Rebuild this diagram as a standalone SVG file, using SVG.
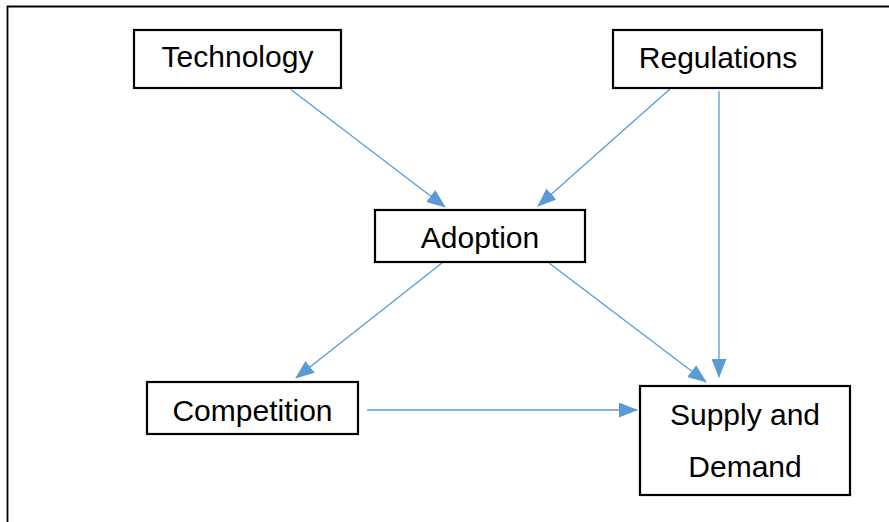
<svg xmlns="http://www.w3.org/2000/svg" width="889" height="522" viewBox="0 0 889 522">
<style>
.box{fill:#fff;stroke:#000;stroke-width:2.2}
.lbl{font-family:"Liberation Sans",Arial,sans-serif;font-size:30px;fill:#000;text-anchor:middle}
.conn line{stroke:#5B9BD5;stroke-width:1.3;marker-end:url(#ah)}
</style>
<defs>
<marker id="ah" markerUnits="userSpaceOnUse" markerWidth="19" markerHeight="15" viewBox="0 0 19 15" refX="18" refY="7.5" orient="auto">
<path d="M0,0 L19,7.5 L0,15 Z" fill="#5B9BD5"/>
</marker>
</defs>
<rect x="0" y="0" width="889" height="522" fill="#fff"/>
<path d="M7.5,522 V6.5 H889" fill="none" stroke="#000" stroke-width="1.8"/>
<g class="conn">
<line x1="291.5" y1="90" x2="445" y2="207"/>
<line x1="670" y1="89" x2="538" y2="206"/>
<line x1="719" y1="91" x2="719" y2="377"/>
<line x1="442" y1="263" x2="296" y2="378"/>
<line x1="549" y1="263" x2="706" y2="382"/>
<line x1="367" y1="410" x2="637" y2="410"/>
</g>
<g id="technology"><rect class="box" x="134" y="30" width="207" height="58"/><text class="lbl" x="237.5" y="67">Technology</text></g>
<g id="regulations"><rect class="box" x="613" y="30" width="209" height="58"/><text class="lbl" x="718" y="67.5">Regulations</text></g>
<g id="adoption"><rect class="box" x="375" y="210" width="210" height="52"/><text class="lbl" x="480" y="247.5">Adoption</text></g>
<g id="competition"><rect class="box" x="147" y="382" width="211" height="52"/><text class="lbl" x="252.5" y="421">Competition</text></g>
<g id="supply"><rect class="box" x="640" y="386" width="210" height="109"/><text class="lbl" x="745" y="425">Supply and</text><text class="lbl" x="745" y="477">Demand</text></g>
</svg>
